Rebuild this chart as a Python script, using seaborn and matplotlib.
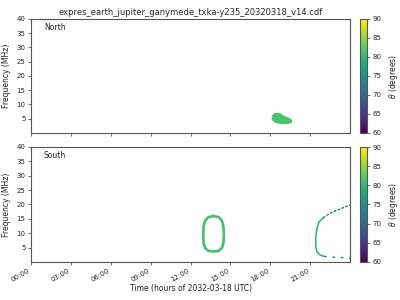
import numpy as np
import pandas as pd
import matplotlib
matplotlib.use("Agg")
import matplotlib.pyplot as plt
import seaborn as sns
from matplotlib.colors import Normalize
from matplotlib.cm import ScalarMappable

sns.set_style("ticks")
plt.rcParams['font.family'] = ['DejaVu Sans']

# ---- data (hours of day, frequency MHz, theta degrees) ----
north_blob_t = [18.1, 18.15, 18.3, 18.5, 18.74, 19.04, 19.41, 19.64, 19.66, 19.34, 18.89, 18.43, 18.18]
north_blob_f = [5.2, 6.3, 6.9, 7.1, 6.9, 6.0, 5.3, 4.6, 3.6, 3.1, 3.1, 3.4, 4.2]
north_blob_theta = 81.5

south_oval_t = [13.73, 13.32, 13.09, 12.98, 12.96, 12.98, 13.09, 13.35, 13.73, 14.11, 14.37, 14.48, 14.51, 14.48, 14.37, 14.15, 13.73]
south_oval_f = [16.0, 15.5, 14.3, 12.2, 9.4, 6.6, 4.9, 3.8, 3.65, 3.8, 4.9, 6.6, 9.4, 12.2, 14.3, 15.5, 16.0]
south_oval_theta = 81.0

south_arc_t = [21.97, 21.67, 21.52, 21.44, 21.42, 21.44, 21.52, 21.75, 22.05]
south_arc_f = [15.3, 13.9, 11.8, 9.4, 7.0, 4.87, 3.48, 2.43, 1.9]
south_arc_theta = 79.0

south_upper_t = [21.97, 22.27, 22.72, 23.25, 23.7, 24.0]
south_upper_f = [15.3, 16.3, 17.4, 18.4, 19.3, 19.8]
south_upper_theta = 73.0

south_lower_t = [22.05, 22.5, 22.95, 23.5, 24.0]
south_lower_f = [1.9, 1.74, 1.57, 1.5, 1.4]
south_lower_theta = 73.0

xticks = [0, 3, 6, 9, 12, 15, 18, 21]
xtick_labels = ["00:00", "03:00", "06:00", "09:00", "12:00", "15:00", "18:00", "21:00"]
yticks = [5, 10, 15, 20, 25, 30, 35, 40]

title = "expres_earth_jupiter_ganymede_txka-y235_20320318_v14.cdf"

cmap = plt.get_cmap("viridis")
norm = Normalize(vmin=60, vmax=90)

fig = plt.figure(figsize=(4, 3), dpi=100)
ax1 = fig.add_axes([0.0775, 0.557, 0.7975, 0.38])
ax2 = fig.add_axes([0.0775, 0.127, 0.7975, 0.383])
cax1 = fig.add_axes([0.9, 0.557, 0.0175, 0.38])
cax2 = fig.add_axes([0.9, 0.127, 0.0175, 0.383])

# North
ax1.fill(north_blob_t, north_blob_f, color=cmap(norm(north_blob_theta)), lw=0)

# South
df_oval = pd.DataFrame({"t": south_oval_t, "f": south_oval_f})
sns.lineplot(data=df_oval, x="t", y="f", sort=False, ax=ax2,
             color=cmap(norm(south_oval_theta)), lw=1.9, estimator=None)
df_arc = pd.DataFrame({"t": south_arc_t, "f": south_arc_f})
sns.lineplot(data=df_arc, x="t", y="f", sort=False, ax=ax2,
             color=cmap(norm(south_arc_theta)), lw=1.1, estimator=None)
df_up = pd.DataFrame({"t": south_upper_t, "f": south_upper_f})
sns.lineplot(data=df_up, x="t", y="f", sort=False, ax=ax2,
             color=cmap(norm(south_upper_theta)), lw=1.0, estimator=None,
             linestyle=(0, (2, 1)))
df_lo = pd.DataFrame({"t": south_lower_t, "f": south_lower_f})
sns.lineplot(data=df_lo, x="t", y="f", sort=False, ax=ax2,
             color=cmap(norm(south_lower_theta)), lw=1.0, estimator=None,
             linestyle=(0, (2, 4)))

spine_c = "#555555"
for ax, lab in [(ax1, "North"), (ax2, "South")]:
    ax.set_xlim(0, 24)
    ax.set_ylim(0, 40)
    ax.set_yticks(yticks)
    ax.set_xticks(xticks)
    ax.set_ylabel("Frequency (MHz)", fontsize=5.5, color="#222222")
    ax.tick_params(labelsize=5, length=2.5, width=0.6, color=spine_c, pad=1.5)
    for s in ax.spines.values():
        s.set_visible(True)
        s.set_color(spine_c)
        s.set_linewidth(0.8)
    ax.text(0.04, 0.9, lab, transform=ax.transAxes, fontsize=5.5, color="#222222")
    ax.set_xlabel("")

ax1.set_xticklabels([])
ax2.set_xticklabels(xtick_labels, rotation=30, ha="right")
ax2.set_xlabel("Time (hours of 2032-03-18 UTC)", fontsize=5.5, color="#222222", labelpad=1)
ax1.set_title(title, fontsize=6.0, pad=3)

for cax in (cax1, cax2):
    sm = ScalarMappable(norm=norm, cmap=cmap)
    cb = fig.colorbar(sm, cax=cax)
    cb.set_ticks([60, 65, 70, 75, 80, 85, 90])
    cb.ax.tick_params(labelsize=5, length=2.5, width=0.6, color=spine_c, pad=1.5)
    cb.set_label(r"$\theta$ (degrees)", fontsize=5.5)
    cb.outline.set_edgecolor(spine_c)
    cb.outline.set_linewidth(0.8)

fig.savefig("out.png", dpi=100)
